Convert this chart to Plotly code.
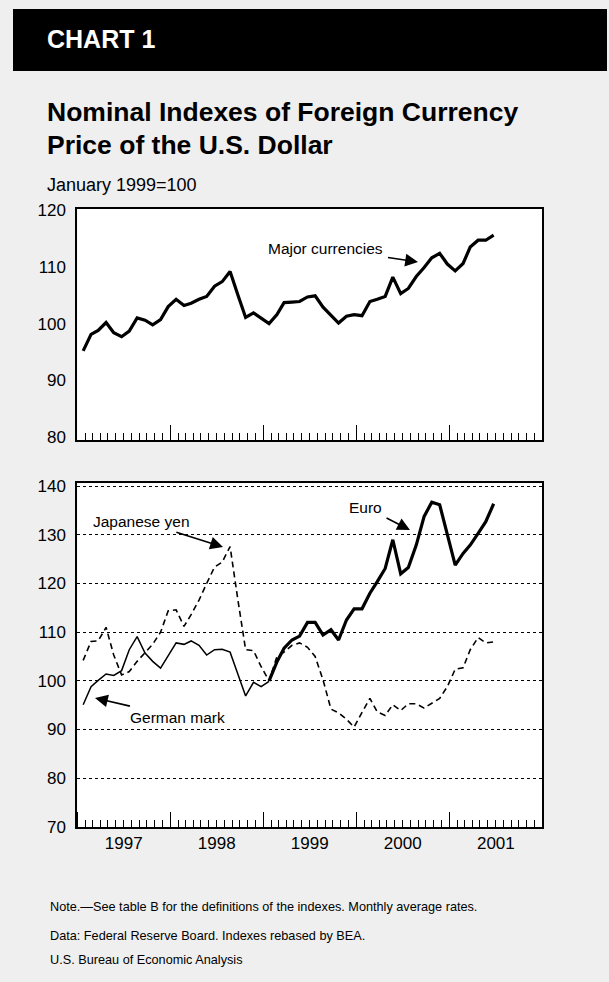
import pandas as pd
import plotly.graph_objects as go

# ---------------- data (monthly, Jan 1997 - Jun 2001) ----------------
months = pd.date_range("1997-01-01", periods=54, freq="MS")

major_currencies = [95.2, 98.1, 98.8, 100.2, 98.4, 97.7, 98.7, 101.0, 100.6, 99.8, 100.7, 103.0,
                    104.3, 103.2, 103.6, 104.3, 104.8, 106.6, 107.4, 109.2, 105.0, 101.1, 101.9, 100.9,
                    100.0, 101.6, 103.7, 103.8, 103.9, 104.7, 104.9, 102.9, 101.4, 100.1, 101.3, 101.6,
                    101.4, 103.9, 104.3, 104.8, 108.2, 105.3, 106.2, 108.3, 109.9, 111.6, 112.4, 110.5,
                    109.3, 110.6, 113.5, 114.7, 114.7, 115.6]

japanese_yen = [104.2, 108.1, 108.2, 111.0, 105.3, 101.2, 101.9, 104.0, 105.8, 107.5, 110.0, 114.4,
                114.6, 111.2, 113.6, 116.6, 120.0, 123.4, 124.4, 127.6, 116.5, 106.4, 106.2, 102.9,
                100.0, 105.0, 105.9, 107.3, 107.8, 106.9, 105.0, 100.2, 94.2, 93.4, 92.1, 90.5,
                93.5, 96.4, 93.6, 92.9, 95.1, 93.9, 95.3, 95.3, 94.4, 95.4, 96.4, 98.8,
                102.4, 102.7, 106.4, 108.9, 107.8, 108.0]

# German mark: Jan 1997 - Jan 1999
german_mark = [95.1, 98.8, 100.1, 101.4, 101.1, 102.1, 106.4, 109.1, 105.7, 104.0, 102.6, 105.3,
               107.8, 107.5, 108.2, 107.3, 105.3, 106.4, 106.5, 105.9, 101.4, 96.9, 99.7, 98.8,
               99.9]

# Euro: Jan 1999 - Jun 2001
euro = [100.0, 103.9, 106.7, 108.4, 109.2, 112.0, 112.0, 109.4, 110.5, 108.4, 112.5, 114.8,
        114.8, 118.0, 120.4, 123.1, 129.0, 122.0, 123.3, 127.9, 133.8, 136.7, 136.2, 130.0,
        123.8, 126.2, 127.9, 130.3, 132.7, 136.4]

top_ticks = [80, 90, 100, 110, 120]
bottom_ticks = [70, 80, 90, 100, 110, 120, 130, 140]

# ---------------- figure ----------------
W, H = 609, 982
FONT = "Liberation Sans, Arial, Helvetica, sans-serif"

x = months + pd.Timedelta(days=23)
x_mark = x[:len(german_mark)]
x_euro = x[len(german_mark) - 1:len(german_mark) - 1 + len(euro)]

def px(v):
    return v / W

def py(v):
    return 1 - v / H

fig = go.Figure()

fig.add_trace(go.Scatter(x=x, y=major_currencies, mode="lines",
                         line=dict(color="black", width=3.2), xaxis="x2", yaxis="y2",
                         showlegend=False, hoverinfo="skip"))
fig.add_trace(go.Scatter(x=x, y=japanese_yen, mode="lines",
                         line=dict(color="black", width=1.6, dash="6px,4px"),
                         showlegend=False, hoverinfo="skip"))
fig.add_trace(go.Scatter(x=x_mark, y=german_mark, mode="lines",
                         line=dict(color="black", width=1.5),
                         showlegend=False, hoverinfo="skip"))
fig.add_trace(go.Scatter(x=x_euro, y=euro, mode="lines",
                         line=dict(color="black", width=3.2),
                         showlegend=False, hoverinfo="skip"))

xrange = ["1997-01-01", "2002-01-01"]
xcommon = dict(range=xrange, type="date", showline=True, mirror=True, linecolor="black",
               linewidth=2, showgrid=False, zeroline=False, ticks="inside", tickcolor="black",
               tickwidth=1, ticklen=15, dtick="M12", tick0="1997-01-01",
               minor=dict(dtick="M1", ticks="inside", ticklen=7, tickcolor="black", tickwidth=1,
                          showgrid=False),
               domain=[px(77.3), px(542.3)], automargin=False)

ycommon = dict(showline=True, mirror=True, linecolor="black", linewidth=2, zeroline=False,
               ticks="", tickfont=dict(family=FONT, size=17, color="black"), automargin=False,
               ticklabelstandoff=6)

fig.update_layout(
    width=W, height=H,
    margin=dict(l=0, r=0, t=0, b=0),
    paper_bgcolor="#efefef",
    plot_bgcolor="white",
    font=dict(family=FONT, color="black"),
    xaxis=dict(**xcommon, anchor="y", showticklabels=True, ticklabelmode="period",
               tickformat="%Y", tickfont=dict(family=FONT, size=17, color="black"),
               ticklabelstandoff=-1),
    yaxis=dict(**ycommon, domain=[py(827.3), py(483.3)], range=[69.9, 140.6],
               tickvals=bottom_ticks, showgrid=True, gridcolor="black", griddash="dot",
               gridwidth=1),
    xaxis2=dict(**xcommon, anchor="y2", showticklabels=False),
    yaxis2=dict(**ycommon, domain=[py(440), py(209)], range=[79.5, 120.2],
                tickvals=top_ticks, showgrid=False),
)

# header band
fig.add_shape(type="rect", xref="paper", yref="paper", x0=px(13), x1=px(607),
              y0=py(71), y1=py(9), fillcolor="black", line=dict(width=0), layer="below")

def text(t, xl, yc, size, bold=False, color="black"):
    fig.add_annotation(text=f"<b>{t}</b>" if bold else t, xref="paper", yref="paper",
                       x=px(xl), y=py(yc), xanchor="left", yanchor="middle", showarrow=False,
                       font=dict(family=FONT, size=size, color=color))

text("CHART 1", 45, 39, 25, bold=True, color="white")
text("Nominal Indexes of Foreign Currency", 45, 112, 26.5, bold=True)
text("Price of the U.S. Dollar", 45, 145, 26.5, bold=True)
text("January 1999=100", 45, 185, 18)
text("Note.\u2014See table B for the definitions of the indexes. Monthly average rates.", 48, 907, 12.7)
text("Data: Federal Reserve Board. Indexes rebased by BEA.", 48, 936, 12.7)
text("U.S. Bureau of Economic Analysis", 48, 960, 12.7)

def arrow_label(t, head, center):
    fig.add_annotation(text=t, xref="paper", yref="paper", x=px(head[0]), y=py(head[1]),
                       ax=center[0] - head[0], ay=center[1] - head[1], axref="pixel",
                       ayref="pixel", showarrow=True, arrowhead=2, arrowsize=1.6,
                       arrowwidth=1.6, arrowcolor="black", standoff=0, startstandoff=4,
                       font=dict(family=FONT, size=15.5, color="black"), bgcolor="rgba(0,0,0,0)")

arrow_label("Major currencies", (418, 262), (325, 248))
arrow_label("Japanese yen", (223, 547), (141, 521))
arrow_label("Euro", (410, 530), (365, 507))
arrow_label("German mark", (95, 698), (177, 717))

fig.write_html(
    "out.html",
    config={"displayModeBar": False},
    post_script="document.body.style.margin='0';document.body.style.overflow='hidden';",
)
